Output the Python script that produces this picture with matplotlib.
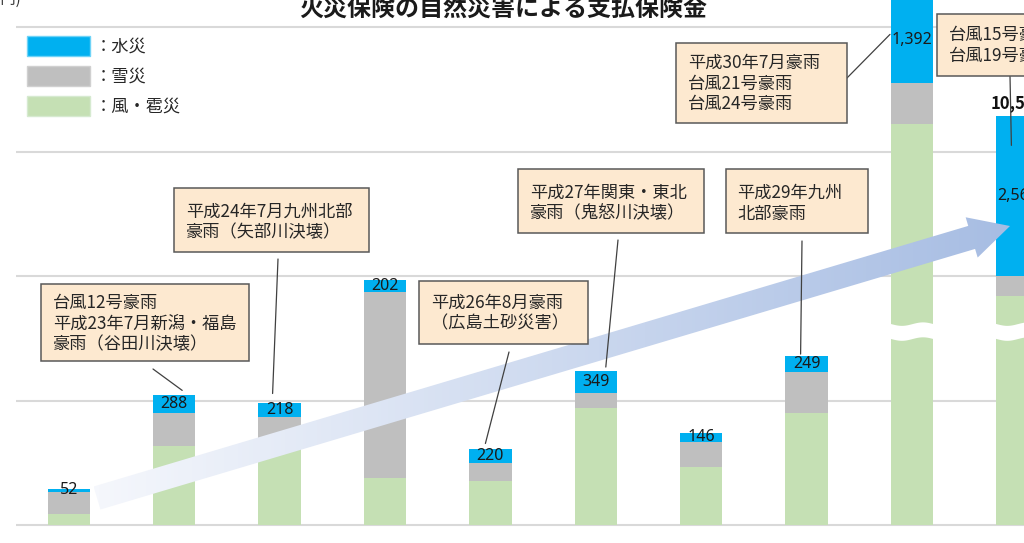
#Import packages
import numpy as np
import matplotlib
matplotlib.use('Agg')
import matplotlib.pyplot as plt
from matplotlib.patches import Rectangle, Polygon, Patch
from matplotlib.colors import LinearSegmentedColormap
from matplotlib.transforms import offset_copy

plt.rcParams['font.family'] = ['Noto Sans CJK JP', 'DejaVu Sans']

W, H = 1024, 543

#Data (億円) - last two green values are heights as drawn on the cut axis
years = ['H22', 'H23', 'H24', 'H25', 'H26', 'H27', 'H28', 'H29', 'H30', 'R1']
flood = [52, 288, 218, 202, 220, 349, 146, 249, 1392, 2566]
snow = [350, 520, 530, 2970, 290, 240, 400, 660, 660, 320]
wind = [190, 1280, 1210, 770, 710, 1890, 940, 1810, 6440, 3680]
total_labels = ['', '', '', '', '', '', '', '', '', '10,563']
broken = [8, 9]
break_lo, break_hi = 3000, 3240

labels = ['：水災', '：雪災', '：風・雹災']
colors = ['#00b0f0', '#bfbfbf', '#c5e0b4']
title = '火災保険の自然災害による支払保険金'

#Annotation boxes: text lines, box (left, top, right, bottom) px, text x, first line y
notes = [
	['台風12号豪雨', '平成23年7月新潟・福島', '豪雨（谷田川決壊）'],
	['平成24年7月九州北部', '豪雨（矢部川決壊）'],
	['平成26年8月豪雨', '（広島土砂災害）'],
	['平成27年関東・東北', '豪雨（鬼怒川決壊）'],
	['平成29年九州', '北部豪雨'],
	['平成30年7月豪雨', '台風21号豪雨', '台風24号豪雨'],
	['台風15号豪雨', '台風19号豪雨'],
]
note_box = [(41, 284, 249, 361), (174, 188, 369, 252), (419, 281, 588, 344),
	(518, 169, 704, 233), (726, 169, 868, 233), (676, 43, 847, 123), (937, 14, 1040, 76)]
note_text = [(53, 303), (186, 212), (431, 303), (530, 193), (737, 193), (688, 63), (949, 35)]
note_bar = [1, 2, 4, 5, 7, 8, 9]
leader_start = [(153, 369), (278, 259), (509, 352), (618, 240), (802, 241), (846, 79), (1010, 76)]
leader_off = [(8, 5), (-7, 10), (-5, 6), (10, 4), (-6, 2), (-22, -38), (-6, -29)]


def main():
	fig = plt.figure(figsize=(W / 100, H / 100), dpi=100)
	ax = fig.add_axes([0, 0, 1, 1])
	xlim = (-68.8 / 105.4, (W - 68.8) / 105.4)
	ylim = (-281, 8434)
	ax.set_xlim(xlim)
	ax.set_ylim(ylim)
	ax.axis('off')

	x = np.arange(len(years))
	wind_a = np.array(wind)
	snow_a = np.array(snow)
	flood_a = np.array(flood)
	top = wind_a + snow_a + flood_a

	#Gridlines
	for v in [0, 2000, 4000, 6000, 8000]:
		ax.hlines(v, -0.5, 10, color='#d9d9d9', lw=1.5, zorder=0)

	#Stacked bars
	bw = 0.401
	ax.bar(x, wind_a, bw, color=colors[2], zorder=2)
	ax.bar(x, snow_a, bw, bottom=wind_a, color=colors[1], zorder=2)
	ax.bar(x, flood_a, bw, bottom=wind_a + snow_a, color=colors[0], zorder=2)

	#Axis break on tall bars
	for i in broken:
		xs = np.linspace(i - 0.23, i + 0.23, 60)
		wave = 28 * np.sin((xs - i) / 0.2 * np.pi)
		ax.fill_between(xs, break_lo + wave, break_hi + wave, color='white', lw=0, zorder=3)

	#Water damage labels
	for i in x:
		yc = wind_a[i] + snow_a[i] + flood_a[i] / 2
		ax.text(i, yc, f'{flood[i]:,}', ha='center', va='center', fontsize=11.5,
			family=['Noto Sans', 'DejaVu Sans'], color='#1a1a1a', zorder=4)
		if total_labels[i]:
			ax.annotate(total_labels[i], xy=(i, top[i]), xytext=(0, 9.5), textcoords='offset points',
				ha='center', va='center', fontsize=12, fontweight='bold', color='#111111')

	#Gradient arrow
	tail = np.array([97.0, 498.0])
	tip = np.array([1010.0, 226.0])
	u = (tip - tail) / np.linalg.norm(tip - tail)
	n = np.array([-u[1], u[0]])
	base = tip - 40 * u
	pts = [tail - 12 * n, base - 12 * n, base - 21 * n, tip, base + 21 * n, base + 12 * n, tail + 12 * n]
	inv = ax.transData.inverted()
	verts = [inv.transform((p[0], H - p[1])) for p in pts]
	poly = Polygon(verts, closed=True, transform=ax.transData)
	cmap = LinearSegmentedColormap.from_list('arr', ['#f5f7fc', '#a7bde3'])
	vx = [v[0] for v in verts]
	vy = [v[1] for v in verts]
	grad = np.linspace(0, 1, 256).reshape(1, -1)
	im = ax.imshow(grad, extent=[min(vx), max(vx), min(vy), max(vy)], aspect='auto',
		cmap=cmap, zorder=5, interpolation='bilinear')
	im.set_clip_path(poly)
	ax.set_xlim(xlim)
	ax.set_ylim(ylim)

	#Leader lines
	for k, i in enumerate(note_bar):
		dx, dy = leader_off[k]
		tr = offset_copy(ax.transData, fig=fig, x=dx, y=dy, units='dots')
		sx, sy = leader_start[k]
		ax.annotate('', xy=(i, top[i]), xycoords=tr, xytext=(sx, H - sy), textcoords='figure pixels',
			arrowprops=dict(arrowstyle='-', color='#404040', lw=0.9, shrinkA=0, shrinkB=0), zorder=6)

	#Annotation boxes
	for k, lines in enumerate(notes):
		l, t, r, b = note_box[k]
		fig.add_artist(Rectangle((l / W, 1 - b / H), (r - l) / W, (b - t) / H, transform=fig.transFigure,
			facecolor='#fde9d0', edgecolor='#595959', lw=1.1, zorder=7))
		tx, ty = note_text[k]
		for j, line in enumerate(lines):
			fig.text(tx / W, 1 - (ty + j * 20.6) / H, line, ha='left', va='center',
				fontsize=12.4, color='#262626', zorder=8)

	#Legend
	handles = [Patch(facecolor=colors[0], edgecolor='#6fd3f7'), Patch(facecolor=colors[1], edgecolor='#d0d0d0'),
		Patch(facecolor=colors[2], edgecolor='#d6ead0')]
	ax.legend(handles=handles, labels=labels, loc='upper left', bbox_to_anchor=(27 / W, 1 - 36 / H),
		bbox_transform=fig.transFigure, frameon=False, fontsize=12.4, handlelength=3.66, handleheight=1.45,
		labelspacing=0.55, handletextpad=0.3, borderpad=0, borderaxespad=0, labelcolor='#262626')

	#Title and unit
	fig.text(503 / W, 1 - 10 / H, title, ha='center', va='center', fontsize=17.3, fontweight='bold', color='#1a1a1a')
	fig.text(21 / W, 1 + 1 / H, '(億円)', ha='right', va='center', fontsize=11, color='#333333')

	fig.savefig('out.png', dpi=100)

#Execute main script
if __name__ == '__main__':
	main()
